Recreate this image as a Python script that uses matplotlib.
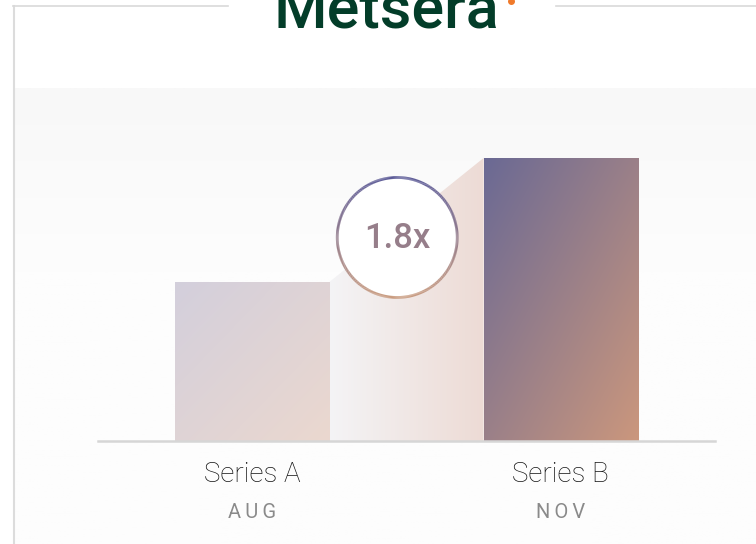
import numpy as np
import matplotlib
matplotlib.use("Agg")
import matplotlib.pyplot as plt
from matplotlib.colors import to_rgb
from matplotlib.patches import Polygon, Circle
from matplotlib.collections import LineCollection
from matplotlib.transforms import ScaledTranslation

# data
series = ["Series A", "Series B"]
months = ["AUG", "NOV"]
values = [1.0, 1.78]

# gradient colours (top-left -> bottom-right)
bar_grads = [("#d3cfdc", "#ebd8cf"), ("#6a6994", "#cb977d")]
link_grad = ("#f4f4f6", "#eddbd5")
ring_grad = ("#5a5996", "#c99b7f")

W, H = 756, 544
fig = plt.figure(figsize=(W / 100, H / 100), dpi=100)
fig.patch.set_facecolor("white")

# background decoration layer in pixel coords
bg = fig.add_axes([0, 0, 1, 1], zorder=0)
bg.set_xlim(0, W)
bg.set_ylim(H, 0)
bg.axis("off")
panel = np.linspace(0, 1, 200)[:, None] * np.ones((1, 2))
pc0, pc1 = np.array(to_rgb("#f8f8f8")), np.array(to_rgb("#fdfdfd"))
t = np.clip(panel / 0.4, 0, 1)
panel_img = pc0 + (pc1 - pc0) * t[..., None]
bg.imshow(panel_img, extent=[14, W, H, 88], aspect="auto", zorder=0)
bg.plot([13.5, 13.5], [6, H], color="#dcdcdc", lw=1.5, zorder=1)
bg.plot([13, 228], [6, 6], color="#d9d9d9", lw=1.2, zorder=1)
bg.plot([556, W], [6, 6], color="#d9d9d9", lw=1.2, zorder=1)
bg.text(386, 28, "Metsera", color="#033d29", fontsize=44, fontweight="medium",
        family="Roboto", ha="center", va="baseline", zorder=2)
bg.plot([511], [1], marker="o", ms=4, color="#f07a2a", zorder=2)

# chart axes
ax = fig.add_axes([98 / W, (H - 441) / H, 617 / W, 353 / H], zorder=1)
ax.patch.set_alpha(0)
x = np.arange(len(values))
bw = 0.5
for s in ["top", "right", "left"]:
    ax.spines[s].set_visible(False)
ax.spines["bottom"].set_color("#d6d6d6")
ax.spines["bottom"].set_linewidth(1.8)
ax.set_yticks([])
ax.set_xticks([])


def grad_img(c0, c1, diag=True, n=200):
    u = np.linspace(0, 1, n)[None, :]
    v = np.linspace(0, 1, n)[:, None]
    tt = (u + v) / 2 if diag else u * np.ones_like(v)
    a, b = np.array(to_rgb(c0)), np.array(to_rgb(c1))
    return a + (b - a) * tt[..., None]


bars = ax.bar(x, values, width=bw, color="none", zorder=2)
for b, (c0, c1) in zip(bars, bar_grads):
    x0, y0 = b.get_x(), b.get_y()
    im = ax.imshow(grad_img(c0, c1), extent=[x0, x0 + b.get_width(), y0, y0 + b.get_height()],
                   aspect="auto", origin="upper", zorder=2)
    im.set_clip_path(b)

# connector between bars
xl, xr = x[0] + bw / 2, x[1] - bw / 2
poly = Polygon([(xl, 0), (xl, values[0]), (xr, values[1]), (xr, 0)], closed=True,
               facecolor="none", edgecolor="none")
ax.add_patch(poly)
im = ax.imshow(grad_img(*link_grad, diag=False), extent=[xl, xr, 0, values[1]],
               aspect="auto", origin="upper", zorder=1)
im.set_clip_path(poly)
ax.set_xlim(-0.5, 1.5)
ax.set_ylim(0, 2.22)

# ratio badge
cx = (xl + xr) / 2 - 0.03
cy = (values[0] + values[1]) / 2 - 0.11
trans = fig.dpi_scale_trans + ScaledTranslation(cx, cy, ax.transData)
r = 0.6
ax.add_patch(Circle((0, 0), r, transform=trans, facecolor="white", edgecolor="none", zorder=5))
th = np.linspace(0, 2 * np.pi, 361)
pts = np.column_stack([r * np.cos(th), r * np.sin(th)])
segs = np.stack([pts[:-1], pts[1:]], axis=1)
tt = (1 - (segs[:, :, 1].mean(axis=1) / r)) / 2
a, b2 = np.array(to_rgb(ring_grad[0])), np.array(to_rgb(ring_grad[1]))
cols = a + (b2 - a) * tt[:, None]
ax.add_collection(LineCollection(segs, colors=cols, linewidths=2, transform=trans, zorder=6))
ax.text(0, -0.01, f"{values[1] / values[0]:.1f}x", transform=trans, ha="center", va="center",
        fontsize=25, color="#967e8a", family="Roboto", fontweight="medium", zorder=7)

# category labels
for xi, s, m in zip(x, series, months):
    ax.annotate(s, (xi, 0), xytext=(0, -33), textcoords="offset pixels", ha="center",
                va="center", fontsize=20, color="#141414", family="Roboto",
                fontweight="light", annotation_clip=False)
    ax.annotate("\u2009".join(m), (xi, 0), xytext=(0, -71), textcoords="offset pixels",
                ha="center", va="center", fontsize=14.5, color="#8a8a8a", family="Roboto",
                annotation_clip=False)

fig.savefig("out.png", dpi=100)
